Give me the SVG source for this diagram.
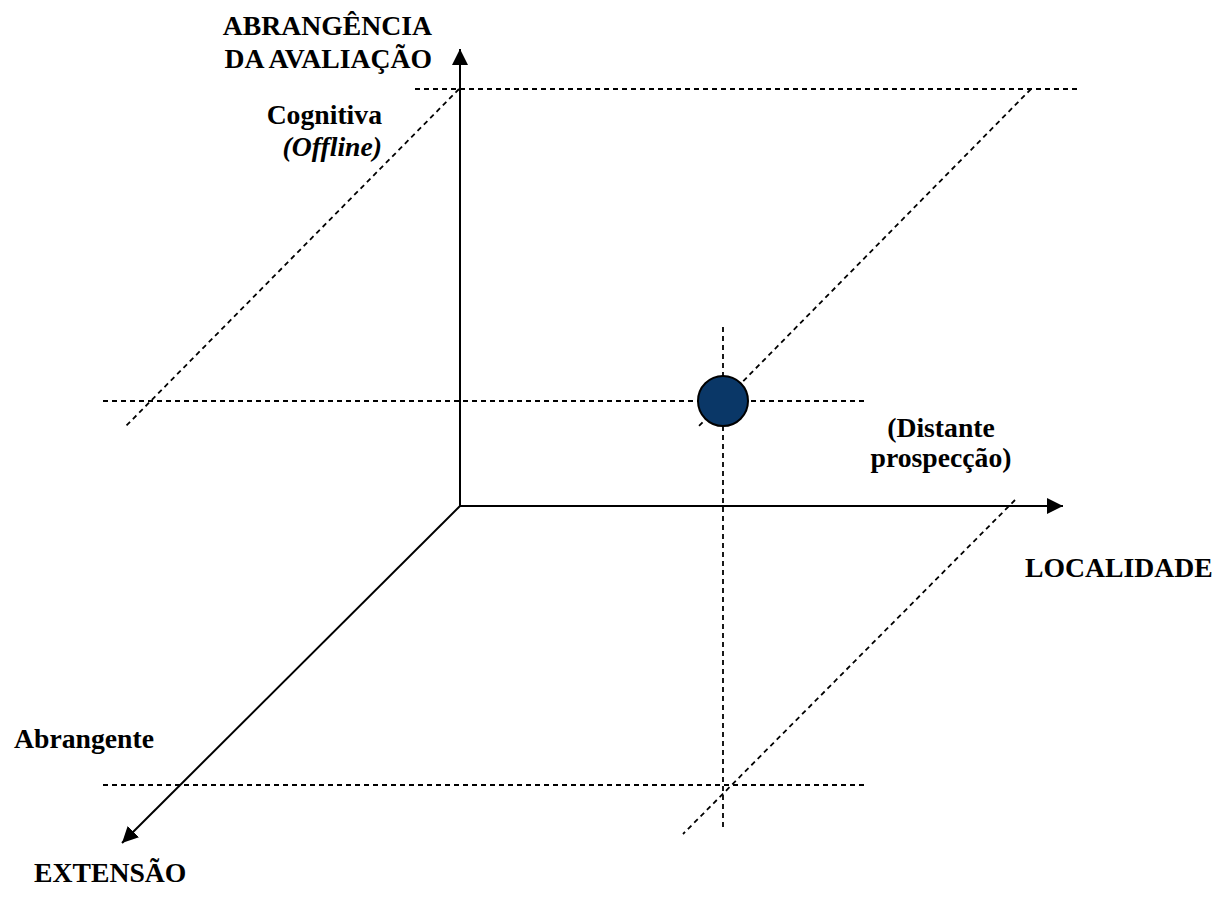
<svg xmlns="http://www.w3.org/2000/svg" width="1228" height="899" viewBox="0 0 1228 899">
  <style>
    .axis { stroke: #000; stroke-width: 2; fill: none; }
    .guide { stroke: #000; stroke-width: 1.8; stroke-dasharray: 5 4; fill: none; }
    .lbl { font-family: "Liberation Serif", "Times New Roman", serif; font-weight: bold; font-size: 27.7px; fill: #000; }
    .it { font-style: italic; }
  </style>
  <defs>
    <marker id="arrow" markerUnits="userSpaceOnUse" markerWidth="18" markerHeight="16" refX="16" refY="8" orient="auto">
      <path d="M0,0 L16,8 L0,16 z" fill="#000"/>
    </marker>
  </defs>

  <rect width="1228" height="899" fill="#fff"/>

  <!-- dashed guide lines of the 3D frame -->
  <g id="guides">
    <line class="guide" x1="415" y1="89" x2="1080" y2="89"/>
    <line class="guide" x1="459" y1="89" x2="126" y2="426"/>
    <line class="guide" x1="1031" y1="89" x2="699" y2="426"/>
    <line class="guide" x1="103" y1="401" x2="866" y2="401"/>
    <line class="guide" x1="723" y1="327" x2="723" y2="827"/>
    <line class="guide" x1="1015" y1="500" x2="683" y2="834"/>
    <line class="guide" x1="103" y1="785" x2="866" y2="785"/>
  </g>

  <!-- the three axes -->
  <g id="axes">
    <line class="axis" x1="460" y1="506" x2="460" y2="49" marker-end="url(#arrow)"/>
    <line class="axis" x1="460" y1="506" x2="1063" y2="506" marker-end="url(#arrow)"/>
    <line class="axis" x1="460" y1="506" x2="122" y2="843" marker-end="url(#arrow)"/>
  </g>

  <!-- plotted point -->
  <g id="point">
    <circle cx="723" cy="401" r="25" fill="#0a3767" stroke="#000" stroke-width="2"/>
  </g>

  <!-- labels -->
  <g id="label-abrangencia">
    <text class="lbl" x="432" y="35" text-anchor="end">ABRANGÊNCIA</text>
    <text class="lbl" x="432" y="68" text-anchor="end">DA AVALIAÇÃO</text>
  </g>
  <g id="label-cognitiva">
    <text class="lbl" x="382" y="124" text-anchor="end">Cognitiva</text>
    <text class="lbl it" x="382" y="156" text-anchor="end">(Offline)</text>
  </g>
  <g id="label-distante">
    <text class="lbl" x="941" y="437" text-anchor="middle">(Distante</text>
    <text class="lbl" x="941" y="467" text-anchor="middle">prospecção)</text>
  </g>
  <g id="label-localidade">
    <text class="lbl" x="1025" y="577">LOCALIDADE</text>
  </g>
  <g id="label-abrangente">
    <text class="lbl" x="14" y="748">Abrangente</text>
  </g>
  <g id="label-extensao">
    <text class="lbl" x="34" y="882">EXTENSÃO</text>
  </g>
</svg>
